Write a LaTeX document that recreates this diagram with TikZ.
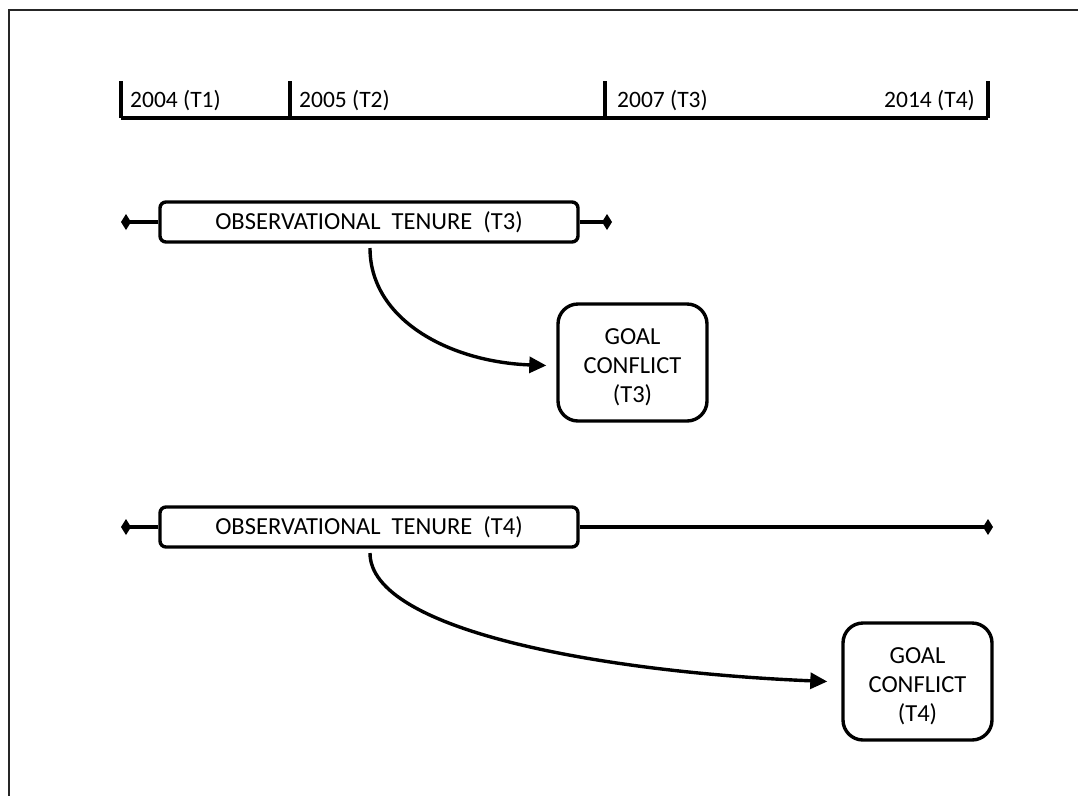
\documentclass[tikz,border=0pt]{standalone}
\usepackage{fontspec}
\setmainfont{Carlito}
\usetikzlibrary{arrows.meta}

% strut that lowers the first line of the conflict boxes a little
\newcommand{\toppad}{\rule{0pt}{25pt}}

\begin{document}
\begin{tikzpicture}[x=1pt,y=-1pt,
  font=\fontsize{23.5}{29}\selectfont,
  frameline/.style={line width=2pt,black!85},
  axisline/.style={line width=3.4pt},
  yearlabel/.style={anchor=west,inner sep=0pt},
  boxtext/.style={font=\fontsize{24.5}{29}\selectfont},
  tenurebox/.style={boxtext,draw,line width=3.4pt,rounded corners=6pt,minimum width=418pt,minimum height=40pt,inner sep=0pt},
  goalbox/.style={boxtext,draw,line width=3.4pt,rounded corners=20pt,minimum width=149pt,minimum height=117pt,align=center,inner sep=0pt},
  whisker/.style={line width=3.4pt,-{Diamond[length=10pt,width=16pt]}},
  effect/.style={line width=3.4pt,-{Triangle[length=17pt,width=16pt]}}
]
\useasboundingbox (0,0) rectangle (1078,796);

% open frame: top and left edges only
\coordinate (fc) at (9,10);
\draw[frameline] (1078,10) -- (fc) -- (9,796);

% time axis with year ticks
\coordinate (t1) at (121,118);
\coordinate (t2) at (290,118);
\coordinate (t3) at (605,118);
\coordinate (t4) at (988,118);
\draw[axisline] (t1) -- (t4);
\foreach \t in {t1,t2,t3,t4}{\draw[axisline] (\t) -- ++(0,-37);}
\node[yearlabel] (l1) at (130,101) {2004 (T1)};
\node[yearlabel] (l2) at (299,101) {2005 (T2)};
\node[yearlabel] (l3) at (617,101) {2007 (T3)};
\node[yearlabel,anchor=east] (l4) at (975,101) {2014 (T4)};

% observational tenure up to T3
\node[tenurebox] (obs3) at (369,222) {OBSERVATIONAL\ \ TENURE\ \ (T3)};
\coordinate (d3l) at (121,222);
\coordinate (d3r) at (612,222);
\draw[whisker] (obs3.west) -- (d3l);
\draw[whisker] (obs3.east) -- (d3r);

\node[goalbox] (gc3) at (632.5,362.5) {\toppad GOAL\\CONFLICT\\(T3)};
\coordinate (a3) at (370,248);
\coordinate (e3) at ([xshift=-10pt,yshift=-3pt]gc3.west);
\draw[effect] (a3) .. controls (370,320) and (450,362) .. (e3);

% observational tenure up to T4
\node[tenurebox] (obs4) at (369,527) {OBSERVATIONAL\ \ TENURE\ \ (T4)};
\coordinate (d4l) at (121,527);
\coordinate (d4r) at (993,527);
\draw[whisker] (obs4.west) -- (d4l);
\draw[whisker] (obs4.east) -- (d4r);

\node[goalbox] (gc4) at (917.5,681.5) {\toppad GOAL\\CONFLICT\\(T4)};
\coordinate (a4) at (370,553);
\coordinate (e4) at ([xshift=-14pt]gc4.west);
\draw[effect] (a4) .. controls (370,630) and (600,672) .. (e4);
\end{tikzpicture}
\end{document}
